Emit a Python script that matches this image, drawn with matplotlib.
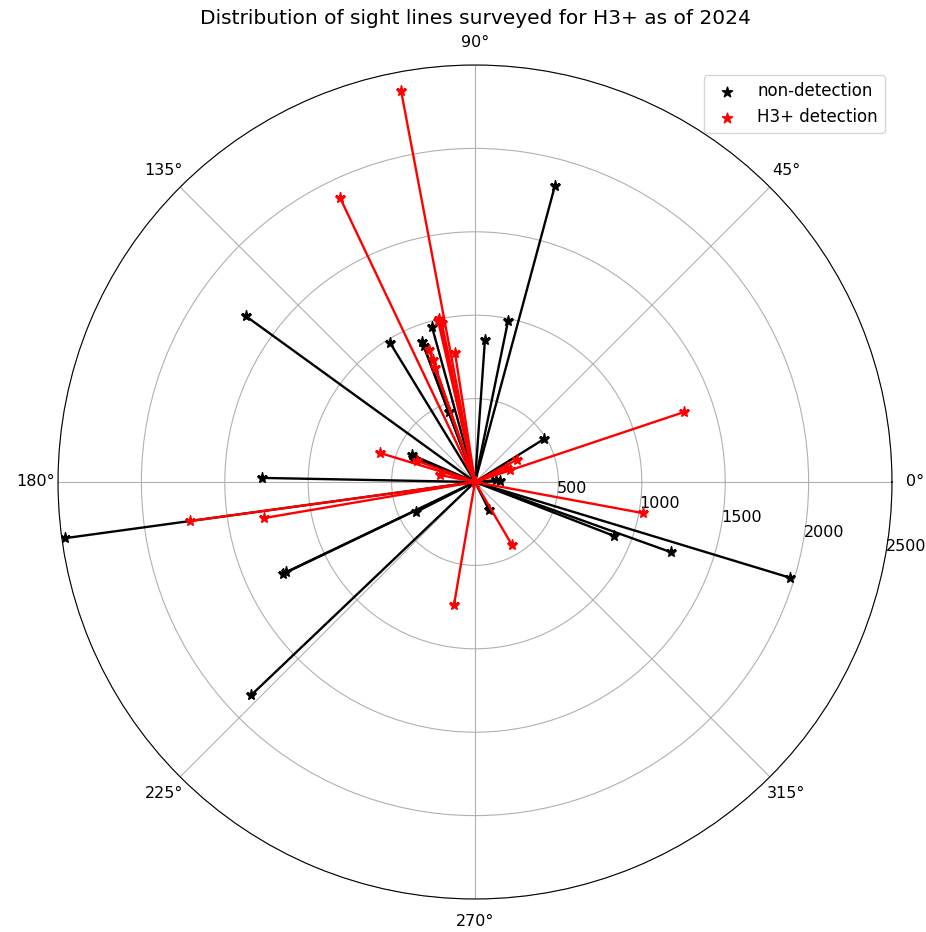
import numpy as np
import matplotlib
matplotlib.use('Agg')
import matplotlib.pyplot as plt

# sight lines without an H3+ detection: direction [deg], distance
nondet_deg = [74.9, 144.1, 78.4, 86.0, 121.4, 105.5, 110.7, 110.6, 110.4, 31.9,
              178.9, 187.8, 205.6, 205.5, 223.6, 207.0, 296.6, 338.8, 340.3, 343.1,
              156.8, 158.8, 1.6, 5.0]
nondet_r = [1840, 1697, 986, 854, 978, 965, 898, 871, 448, 488,
            1278, 2483, 1277, 1256, 1854, 397, 188, 895, 1249, 1976,
            411, 399, 150, 125]

# sight lines with an H3+ detection
det_deg = [100.7, 115.4, 102.9, 101.8, 102.3, 98.8, 109.2, 109.0, 109.4, 18.5,
           349.5, 163.0, 160.0, 168.7, 187.8, 189.7, 260.3, 300.4, 28.1, 19.4, 23.8]
det_r = [2388, 1887, 989, 975, 1000, 783, 835, 776, 725, 1322,
         1025, 596, 370, 214, 1726, 1284, 749, 438, 284, 223, 208]

plt.rcParams['font.size'] = 11.5

fig = plt.figure(figsize=(9.26, 9.32), dpi=100)
ax = fig.add_axes([58/926, 33/932, 834/926, 834/932], projection='polar')

for deg, r in zip(nondet_deg, nondet_r):
    th = np.deg2rad(deg)
    ax.plot([0, th], [0, r], color='k', lw=1.7, marker='*', markersize=8)
for deg, r in zip(det_deg, det_r):
    th = np.deg2rad(deg)
    ax.plot([0, th], [0, r], color='r', lw=1.7, marker='*', markersize=8)

# scatter only for the legend handles
ax.scatter([], [], color='k', marker='*', s=60, label='non-detection')
ax.scatter([], [], color='r', marker='*', s=60, label='H3+ detection')

ax.set_ylim(0, 2500)
ax.set_rticks([500, 1000, 1500, 2000, 2500])
ax.set_rlabel_position(-10)
ax.tick_params(axis='x', pad=6)
ax.grid(True, color='#b0b0b0', lw=0.8)

ax.legend(loc='upper right', bbox_to_anchor=(893/926, 1 - 67/932),
          bbox_transform=fig.transFigure, fontsize=12)

fig.text(475/926, 1 - 18/932, 'Distribution of sight lines surveyed for H3+ as of 2024',
         ha='center', va='center', fontsize=14.5)

fig.savefig('out.png', dpi=100)
